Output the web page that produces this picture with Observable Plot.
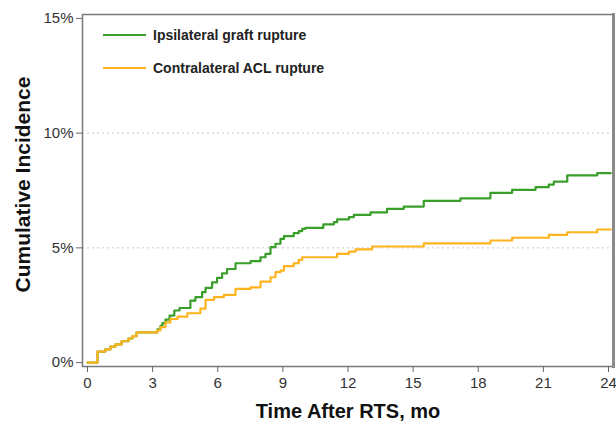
<!DOCTYPE html>
<html>
<head>
<meta charset="utf-8">
<script src="https://cdn.jsdelivr.net/npm/d3@7"></script>
<script src="https://cdn.jsdelivr.net/npm/@observablehq/plot@0.6"></script>
<style>
  html, body { margin: 0; padding: 0; background: #fff; }
  #wrap { position: relative; width: 616px; height: 430px; font-family: "Liberation Sans", Arial, sans-serif; }
  #legend { position: absolute; left: 103px; top: 24px; }
  .item { display: flex; align-items: center; height: 22px; margin-bottom: 11px; font-weight: bold; font-size: 14px; color: #222; }
  .sw { width: 43px; height: 2.5px; margin-right: 7px; }
</style>
</head>
<body>
<div id="wrap"><div id="chart"></div>
<div id="legend"></div></div>
<script>
// Series names
const seriesNames = ["Ipsilateral graft rupture", "Contralateral ACL rupture"];
const seriesColors = ["#3a9f2a", "#ffb41e"];

// Ipsilateral graft rupture (months, cumulative %)
const ipsiTime = [0, 0.46, 0.82, 1.06, 1.29, 1.57, 1.89, 2.07, 2.26, 3.22, 3.36, 3.45, 3.59, 3.78, 4.00, 4.24, 4.74, 4.97, 5.28, 5.44, 5.74, 5.97, 6.20, 6.43, 6.82, 7.51, 7.97, 8.20, 8.43, 8.66, 8.89, 9.05, 9.50, 9.73, 9.89, 10.04, 10.86, 11.35, 11.50, 12.04, 12.27, 13.04, 13.80, 14.57, 15.49, 17.18, 18.56, 19.56, 20.64, 21.25, 21.48, 22.10, 23.48, 24.1];
const ipsiValue = [0, 0.48, 0.58, 0.70, 0.79, 0.93, 1.05, 1.15, 1.32, 1.45, 1.60, 1.72, 1.87, 2.05, 2.27, 2.38, 2.70, 2.85, 3.07, 3.26, 3.50, 3.69, 3.89, 4.08, 4.33, 4.42, 4.59, 4.74, 5.03, 5.18, 5.39, 5.51, 5.64, 5.73, 5.83, 5.87, 6.02, 6.12, 6.24, 6.34, 6.44, 6.55, 6.70, 6.80, 7.05, 7.16, 7.40, 7.53, 7.65, 7.76, 7.89, 8.16, 8.26, 8.26];

// Contralateral ACL rupture (months, cumulative %)
const contraTime = [0, 0.46, 0.82, 1.06, 1.29, 1.57, 1.89, 2.07, 2.26, 3.22, 3.36, 3.59, 3.82, 4.15, 4.60, 5.20, 5.44, 5.83, 6.28, 6.82, 7.51, 7.97, 8.43, 8.66, 8.89, 9.05, 9.50, 9.73, 9.89, 11.50, 12.04, 12.35, 13.11, 15.49, 18.56, 19.56, 21.25, 22.10, 23.48, 24.1];
const contraValue = [0, 0.48, 0.58, 0.70, 0.79, 0.93, 1.05, 1.15, 1.32, 1.40, 1.55, 1.75, 1.90, 2.00, 2.15, 2.35, 2.73, 2.85, 2.95, 3.21, 3.28, 3.53, 3.72, 3.94, 4.01, 4.20, 4.33, 4.48, 4.59, 4.74, 4.84, 4.93, 5.06, 5.20, 5.32, 5.44, 5.57, 5.68, 5.80, 5.80];

// Tick labels
const xTicks = [0, 3, 6, 9, 12, 15, 18, 21, 24];
const yTicks = [0, 5, 10, 15];
const gridValues = [5, 10];
const xTitle = "Time After RTS, mo";
const yTitle = "Cumulative Incidence";

const ipsi = ipsiTime.map((t, i) => ({t, v: ipsiValue[i]}));
const contra = contraTime.map((t, i) => ({t, v: contraValue[i]}));

const chart = Plot.plot({
  width: 616,
  height: 430,
  marginLeft: 82,
  marginRight: 3,
  marginTop: 14,
  marginBottom: 64,
  style: {fontFamily: '"Liberation Sans", Arial, sans-serif', fontSize: "15px", color: "#333", background: "#fff"},
  x: {domain: [-0.23, 24.23]},
  y: {domain: [-0.17, 15.17]},
  marks: [
    Plot.ruleY(gridValues, {stroke: "#c8c8c8", strokeDasharray: "2,3", strokeWidth: 1}),
    Plot.line(ipsi, {x: "t", y: "v", curve: "step-after", stroke: seriesColors[0], strokeWidth: 2.2}),
    Plot.line(contra, {x: "t", y: "v", curve: "step-after", stroke: seriesColors[1], strokeWidth: 2.2}),
    Plot.frame({stroke: "#7a7a7a", strokeWidth: 1.5}),
    Plot.frame({anchor: "right", stroke: "#8a8a8a", strokeWidth: 3}),
    Plot.axisY({ticks: yTicks, tickFormat: d => d + "%", tickSize: 6, tickPadding: 3, label: null, stroke: "#666", fill: "#333"}),
    Plot.axisX({ticks: xTicks, tickFormat: d => String(d), tickSize: 6, tickPadding: 5, label: null, stroke: "#666", fill: "#333"}),
    Plot.text([xTitle], {frameAnchor: "bottom", dy: 51, fontWeight: "bold", fontSize: 20, fill: "#111"}),
    Plot.text([yTitle], {frameAnchor: "left", textAnchor: "middle", dx: -59, dy: -6, rotate: -90, fontWeight: "bold", fontSize: 21, fill: "#111"})
  ]
});
document.getElementById("chart").appendChild(chart);

const legend = document.getElementById("legend");
seriesNames.forEach((name, i) => {
  const item = document.createElement("div");
  item.className = "item";
  const sw = document.createElement("div");
  sw.className = "sw";
  sw.style.background = seriesColors[i];
  const label = document.createElement("span");
  label.textContent = name;
  item.appendChild(sw);
  item.appendChild(label);
  legend.appendChild(item);
});
</script>
</body>
</html>
